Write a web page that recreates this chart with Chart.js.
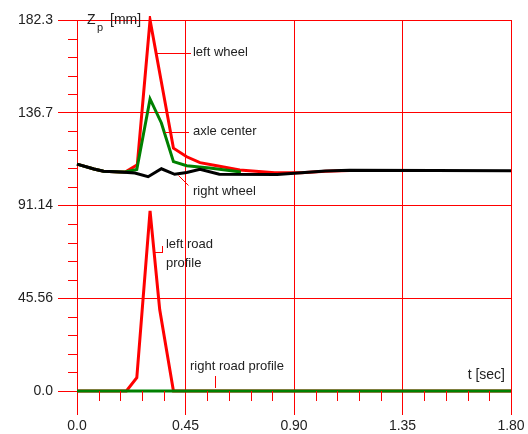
<!DOCTYPE html>
<html><head><meta charset="utf-8">
<script src="https://cdn.jsdelivr.net/npm/chart.js@4/dist/chart.umd.min.js"></script>
<style>html,body{margin:0;padding:0;background:#fff}#wrap{width:528px;height:434px}</style>
</head><body><div id="wrap"><canvas id="c" width="528" height="434"></canvas></div>
<script>
// ---- tick definitions ----
const xTickValues = [0, 0.45, 0.9, 1.35, 1.8];
const xTickLabels = ["0.0", "0.45", "0.90", "1.35", "1.80"];
const yTickValues = [0, 45.575, 91.15, 136.725, 182.3];
const yTickLabels = ["0.0", "45.56", "91.14", "136.7", "182.3"];

// ---- series (t in sec, Zp in mm) ----
const rightWheelT = [0, 0.07, 0.11, 0.18, 0.24, 0.295, 0.35, 0.405, 0.455, 0.51, 0.59, 0.83, 0.93, 1.03, 1.13, 1.48, 1.80];
const rightWheelZ = [111.5, 109.1, 108.0, 107.6, 107.1, 105.3, 109.2, 106.5, 107.4, 108.9, 106.5, 106.4, 107.3, 108.1, 108.5, 108.4, 108.2];

const leftWheelT = [0, 0.07, 0.11, 0.18, 0.20, 0.25, 0.303, 0.40, 0.455, 0.51, 0.58, 0.675, 0.82, 0.93, 1.03, 1.13, 1.48];
const leftWheelZ = [111.5, 109.1, 108.0, 107.6, 107.6, 111.1, 182.3, 119.3, 115.1, 112.2, 110.7, 108.6, 107.3, 107.3, 108.0, 108.4, 108.3];

const axleCenterT = [0, 0.07, 0.11, 0.18, 0.20, 0.248, 0.303, 0.35, 0.40, 0.455, 0.55, 0.68];
const axleCenterZ = [111.5, 109.1, 108.0, 107.6, 107.6, 108.8, 143.5, 131.7, 112.7, 110.7, 109.6, 107.6];

const leftRoadT = [0, 0.205, 0.248, 0.303, 0.343, 0.40, 1.80];
const leftRoadZ = [0, 0, 6.5, 88.5, 40, 0, 0];

const rightRoadT = [0, 1.80];
const rightRoadZ = [0, 0];

const pts = (ts, vs) => ts.map((t, i) => ({x: t, y: vs[i]}));

// ---- annotation labels (data coordinates) ----
const notes = [
  {lines: ["left wheel"], t: 0.481, v: 166.2, leader: [[0.3256, 166.2], [0.4687, 166.2]]},
  {lines: ["axle center"], t: 0.481, v: 127.4, leader: [[0.366, 127.4], [0.4604, 127.4]]},
  {lines: ["right wheel"], t: 0.481, v: 97.9, leader: [[0.4177, 106.1], [0.4604, 101.2]]},
  {lines: ["left road", "profile"], t: 0.369, v: 72.2, leader: [[0.3236, 68.1], [0.3525, 68.1], [0.3525, 71.3]]},
  {lines: ["right road profile"], t: 0.4687, v: 11.9, leader: [[0.5724, 7.4], [0.5724, 2.0]]}
];

const RED = '#ff0000', GREEN = '#008000', TXT = '#222';
const FONT = '"Liberation Sans", Arial, sans-serif';

const decorPlugin = {
  id: 'decor',
  afterDraw(chart) {
    const ctx = chart.ctx, xs = chart.scales.x, ys = chart.scales.y, ca = chart.chartArea;
    ctx.save();
    ctx.fillStyle = RED;
    // minor ticks (crisp 1px rects)
    for (let i = 0; i < xTickValues.length - 1; i++) {
      for (let k = 1; k < 5; k++) {
        const v = xTickValues[i] + (xTickValues[i + 1] - xTickValues[i]) * k / 5;
        const px = Math.round(xs.getPixelForValue(v));
        ctx.fillRect(px, Math.round(ca.bottom), 1, 10);
      }
    }
    for (let i = 0; i < yTickValues.length - 1; i++) {
      for (let k = 1; k < 5; k++) {
        const v = yTickValues[i] + (yTickValues[i + 1] - yTickValues[i]) * k / 5;
        const py = Math.round(ys.getPixelForValue(v));
        ctx.fillRect(Math.round(ca.left) - 9, py, 9, 1);
      }
    }
    // annotation leaders
    notes.forEach(n => {
      for (let i = 1; i < n.leader.length; i++) {
        const x1 = Math.round(xs.getPixelForValue(n.leader[i - 1][0])), y1 = Math.round(ys.getPixelForValue(n.leader[i - 1][1]));
        const x2 = Math.round(xs.getPixelForValue(n.leader[i][0])), y2 = Math.round(ys.getPixelForValue(n.leader[i][1]));
        ctx.fillStyle = RED;
        if (y1 === y2) ctx.fillRect(Math.min(x1, x2), y1, Math.abs(x2 - x1) + 1, 1);
        else if (x1 === x2) ctx.fillRect(x1, Math.min(y1, y2), 1, Math.abs(y2 - y1) + 1);
        else {
          ctx.strokeStyle = RED; ctx.lineWidth = 1;
          ctx.beginPath(); ctx.moveTo(x1 + 0.5, y1 + 0.5); ctx.lineTo(x2 + 0.5, y2 + 0.5); ctx.stroke();
        }
      }
    });
    // annotation text
    ctx.fillStyle = TXT;
    ctx.font = '13px ' + FONT;
    ctx.textBaseline = 'middle'; ctx.textAlign = 'left';
    notes.forEach(n => {
      const x0 = xs.getPixelForValue(n.t), y0 = ys.getPixelForValue(n.v);
      n.lines.forEach((s, i) => ctx.fillText(s, x0, y0 + i * 19));
    });
    // axis titles
    ctx.font = '14px ' + FONT;
    ctx.fillText('Z', ca.left + 10, ca.top);
    ctx.font = '11px ' + FONT;
    ctx.fillText('p', ca.left + 20, ca.top + 8);
    ctx.font = '14px ' + FONT;
    ctx.fillText('[mm]', ca.left + 33, ca.top);
    ctx.textAlign = 'right';
    ctx.fillText('t [sec]', ca.right - 6, ca.bottom - 16);
    ctx.restore();
  }
};

const ds = (label, ts, vs, color, order) => ({
  label, data: pts(ts, vs), borderColor: color, backgroundColor: color,
  borderWidth: 3, pointRadius: 0, tension: 0, fill: false, order, clip: 4
});

new Chart(document.getElementById('c'), {
  type: 'line',
  data: {
    datasets: [
      ds('right wheel', rightWheelT, rightWheelZ, '#000000', 0),
      ds('axle center', axleCenterT, axleCenterZ, GREEN, 1),
      ds('left wheel', leftWheelT, leftWheelZ, RED, 2),
      ds('right road profile', rightRoadT, rightRoadZ, GREEN, 3),
      ds('left road profile', leftRoadT, leftRoadZ, RED, 4)
    ]
  },
  options: {
    responsive: false, animation: false,
    layout: {padding: {top: 20, right: 17, left: 0, bottom: 0}},
    plugins: {legend: {display: false}, tooltip: {enabled: false}},
    scales: {
      x: {
        type: 'linear', min: 0, max: 1.8,
        afterBuildTicks: s => { s.ticks = xTickValues.map(v => ({value: v})); },
        afterFit: s => { s.height = 43; },
        ticks: {callback: (v, i) => xTickLabels[i], color: TXT, font: {size: 14, family: FONT}, padding: 3, maxRotation: 0, autoSkip: false},
        grid: {color: RED, tickColor: RED, tickLength: 24, lineWidth: 1},
        border: {display: false}
      },
      y: {
        type: 'linear', min: 0, max: 182.3,
        afterBuildTicks: s => { s.ticks = yTickValues.map(v => ({value: v})); },
        afterFit: s => { s.width = 77; },
        ticks: {callback: (v, i) => yTickLabels[i], color: TXT, font: {size: 14, family: FONT}, padding: 5, autoSkip: false},
        grid: {color: RED, tickColor: RED, tickLength: 19, lineWidth: 1},
        border: {display: false}
      }
    }
  },
  plugins: [decorPlugin]
});
</script></body></html>
